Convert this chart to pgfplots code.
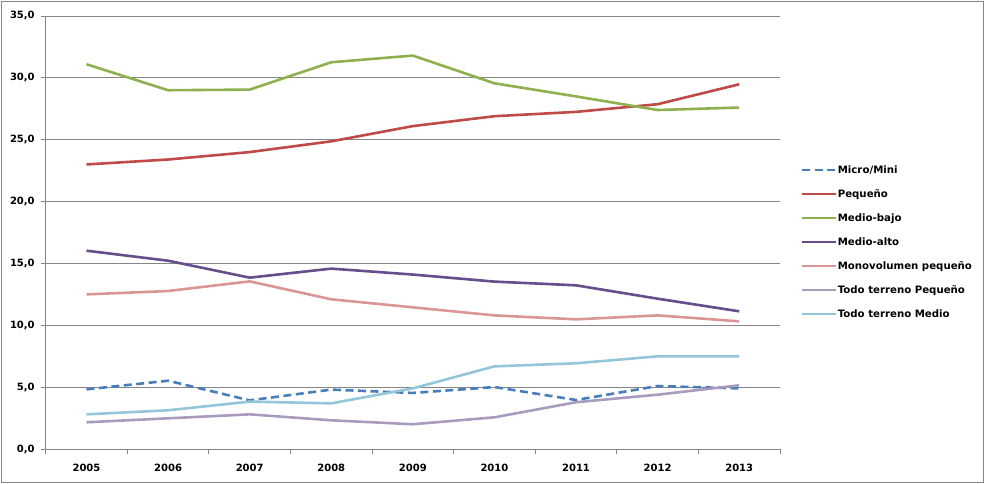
\documentclass[border=0pt]{standalone}
\usepackage{pgfplots}
\pgfplotsset{compat=1.18}
\usepackage{fontspec}
\setmainfont{DejaVu Sans}
\definecolor{cMicro}{HTML}{4A7EBB}
\definecolor{cPeq}{HTML}{BE4B48}
\definecolor{cMB}{HTML}{8EB04F}
\definecolor{cMA}{HTML}{664D8C}
\definecolor{cMono}{HTML}{D99694}
\definecolor{cTTP}{HTML}{A99BBD}
\definecolor{cTTM}{HTML}{93C6D9}
\definecolor{cGrid}{HTML}{868686}
\begin{document}
\begin{tikzpicture}
\useasboundingbox (-45.7bp,-35bp) rectangle (942.3bp,449bp);
\draw[cGrid, line width=0.8bp] (-44.2bp,-33bp) rectangle (937.3bp,448bp);
\begin{axis}[
  at={(0,0)}, anchor=south west,
  scale only axis, width=734.3bp, height=433bp,
  xmin=-0.5, xmax=8.5, ymin=0, ymax=35,
  axis x line*=bottom, axis y line*=left,
  axis line style={cGrid, line width=0.8bp, -},
  xtick={0,...,8},
  xticklabels={2005,2006,2007,2008,2009,2010,2011,2012,2013},
  minor xtick={-0.5,0.5,...,8.5},
  major x tick style={draw=none},
  minor tick length=4.5bp, major tick length=4.5bp,
  tick align=outside,
  tick style={cGrid, line width=0.8bp},
  ytick={0,5,...,35},
  ymajorgrids, grid style={cGrid, line width=0.8bp},
  yticklabel={\pgfmathprintnumber[fixed,fixed zerofill,precision=1,use comma]{\tick}},
  /pgf/number format/assume math mode=true,
  ticklabel style={font=\fontsize{10bp}{12bp}\selectfont\bfseries, text=black},
  y tick label style={xshift=-3bp},
  x tick label style={yshift=-7bp},
  every axis plot/.append style={line width=2.6bp, line join=round},
  legend style={at={(1.0286,0.656)}, anchor=north west, draw=none, fill=none,
    inner sep=0pt, font=\fontsize{10.2bp}{12bp}\selectfont\bfseries,
    nodes={inner sep=0pt, text height=8bp, text depth=2bp},
    row sep=14bp,
    /tikz/every even column/.append style={column sep=4bp}},
  legend cell align=left,
  legend image code/.code={\draw[#1] (0bp,0bp) -- (34bp,0bp);},
]
\addplot[cMicro, dash pattern=on 8bp off 4.5bp] coordinates {(0,4.82)(1,5.52)(2,3.93)(3,4.80)(4,4.53)(5,5.01)(6,3.96)(7,5.09)(8,4.90)};
\addlegendentry{Micro/Mini}
\addplot[cPeq] coordinates {(0,23.0)(1,23.4)(2,24.0)(3,24.87)(4,26.1)(5,26.9)(6,27.25)(7,27.87)(8,29.48)};
\addlegendentry{Pequeño}
\addplot[cMB] coordinates {(0,31.1)(1,29.0)(2,29.05)(3,31.26)(4,31.8)(5,29.56)(6,28.5)(7,27.4)(8,27.6)};
\addlegendentry{Medio-bajo}
\addplot[cMA] coordinates {(0,16.03)(1,15.22)(2,13.85)(3,14.58)(4,14.1)(5,13.53)(6,13.23)(7,12.15)(8,11.13)};
\addlegendentry{Medio-alto}
\addplot[cMono] coordinates {(0,12.5)(1,12.77)(2,13.55)(3,12.1)(4,11.45)(5,10.8)(6,10.48)(7,10.8)(8,10.32)};
\addlegendentry{Monovolumen pequeño}
\addplot[cTTP] coordinates {(0,2.16)(1,2.48)(2,2.8)(3,2.32)(4,2.0)(5,2.56)(6,3.78)(7,4.39)(8,5.15)};
\addlegendentry{Todo terreno Pequeño}
\addplot[cTTM] coordinates {(0,2.8)(1,3.13)(2,3.83)(3,3.69)(4,4.9)(5,6.68)(6,6.93)(7,7.49)(8,7.49)};
\addlegendentry{Todo terreno Medio}
\end{axis}
\end{tikzpicture}
\end{document}
